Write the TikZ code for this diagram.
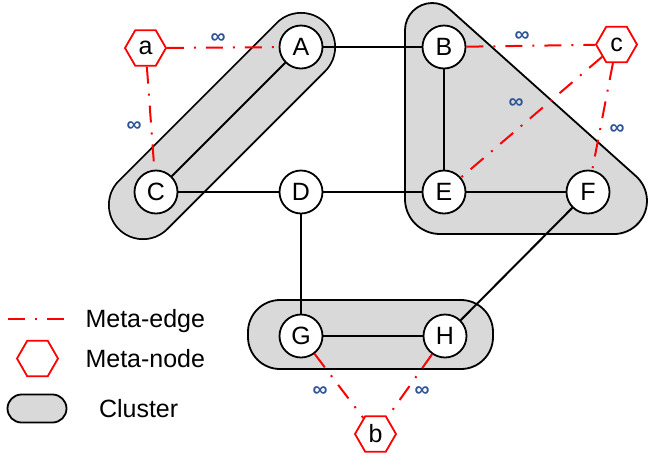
\documentclass[tikz,border=0pt]{standalone}
\usepackage{fontspec}
\setmainfont{Liberation Sans}
\usetikzlibrary{shapes.geometric,backgrounds}
\definecolor{clusterfill}{RGB}{217,217,217}
\definecolor{metared}{RGB}{255,0,0}
\definecolor{infblue}{RGB}{47,85,151}
\begin{document}
\begin{tikzpicture}[x=1pt,y=1pt,
  vnode/.style={circle, draw, line width=1.8pt, fill=white, minimum size=43pt, inner sep=0pt, font=\fontsize{25}{28}\selectfont},
  metanode/.style={regular polygon, regular polygon sides=6, draw=metared, line width=1.8pt, fill=white, minimum size=41pt, inner sep=0pt, font=\fontsize{25}{28}\selectfont},
  edge/.style={line width=2pt},
  metaedge/.style={draw=metared, line width=2pt, dash pattern=on 17pt off 10pt on 2pt off 10pt},
  inflabel/.style={text=infblue, inner sep=0pt, font=\fontsize{21}{24}\selectfont\bfseries},
  cluster/.style={draw, line width=1.8pt, fill=clusterfill},
  legendtext/.style={anchor=base west, font=\fontsize{25}{28}\selectfont}]
\useasboundingbox (0,0) rectangle (648,-459);

% graph nodes
\node[vnode] (A) at (301,-47) {A};
\node[vnode] (B) at (444,-47) {B};
\node[vnode] (C) at (156,-192) {C};
\node[vnode] (D) at (301,-192) {D};
\node[vnode] (E) at (444,-192) {E};
\node[vnode] (F) at (588,-192) {F};
\node[vnode] (G) at (301,-336) {G};
\node[vnode] (H) at (445,-336) {H};

% meta nodes
\node[metanode] (a) at (145.5,-48) {a};
\node[metanode] (c) at (616.5,-44.5) {c};
\node[metanode] (b) at (375.5,-434) {b};

\coordinate (Cend) at (143,-205);

% clusters
\begin{scope}[on background layer]
  \draw[line width=1.8pt, double=clusterfill, double distance=66.4pt, line cap=round] (A.center) -- (Cend);
  \draw[cluster] (405,-199) -- (405,-30.2)
     arc[start angle=180, end angle=48.2, radius=27.2pt]
     -- (635.9,-176.1)
     arc[start angle=48.2, end angle=-90, radius=33.2pt]
     -- (440,-234)
     arc[start angle=-90, end angle=-180, radius=35pt] -- cycle;
  \draw[cluster, rounded corners=32pt] (248,-300) rectangle (493,-369);
\end{scope}

% edges
\draw[edge] (A) -- (B);
\draw[edge] (A) -- (C);
\draw[edge] (C) -- (D);
\draw[edge] (D) -- (E);
\draw[edge] (E) -- (F);
\draw[edge] (B) -- (E);
\draw[edge] (D) -- (G);
\draw[edge] (G) -- (H);
\draw[edge] (F) -- (H);

% meta edges
\draw[metaedge] (a) -- (A);
\draw[metaedge] (a) -- (C);
\draw[metaedge] (B) -- (c);
\draw[metaedge] (c) -- (E);
\draw[metaedge] (c) -- (F);
\draw[metaedge] (G) -- (b);
\draw[metaedge] (H) -- (b);

% infinity labels
\node[inflabel] (i1) at (218,-39) {∞};
\node[inflabel] (i2) at (134,-127) {∞};
\node[inflabel] (i3) at (522,-37) {∞};
\node[inflabel] (i4) at (516,-104) {∞};
\node[inflabel] (i5) at (617,-130) {∞};
\node[inflabel] (i6) at (320,-392) {∞};
\node[inflabel] (i7) at (422,-392) {∞};

% legend
\coordinate (le1) at (8,-319);
\coordinate (le2) at (64,-319);
\draw[metaedge] (le1) -- (le2);
\node[metanode] (lh) at (37.5,-358.5) {};
\draw[cluster, rounded corners=14pt] (7.5,-394.5) rectangle (66.5,-422.5);
\node[legendtext] (t1) at (82,-327) {Meta-edge};
\node[legendtext] (t2) at (82,-367) {Meta-node};
\node[legendtext] (t3) at (95.5,-417) {Cluster};
\end{tikzpicture}
\end{document}
